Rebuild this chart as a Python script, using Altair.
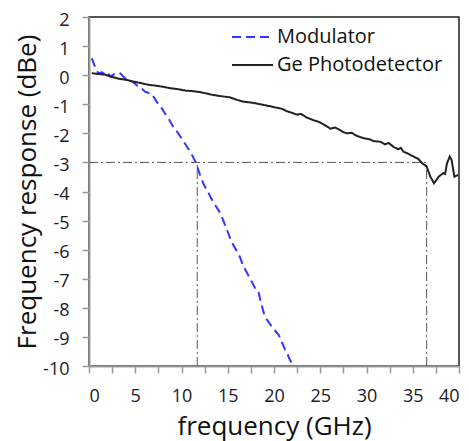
import altair as alt
import pandas as pd

# Ge photodetector response (GHz, dBe)
pd_freq = [0.3, 1.0, 1.7, 2.4, 3.2, 4.0, 4.8, 5.6, 6.4, 7.2, 8.0, 8.8, 9.6, 10.4, 11.2, 12.0,
           12.7, 13.4, 14.2, 15.2, 16.0, 16.7, 17.5, 18.2, 18.8, 19.6, 20.3, 20.8, 21.4, 22.0,
           22.5, 22.9, 23.5, 24.2, 24.8, 25.4, 26.1, 26.6, 27.1, 27.5, 27.9, 28.4, 28.9, 29.7,
           30.3, 30.8, 31.5, 32.0, 32.4, 32.9, 33.4, 33.7, 34.0, 34.5, 35.1, 35.6, 36.0, 36.5,
           36.9, 37.3, 37.8, 38.3, 38.5, 38.7, 39.0, 39.2, 39.5, 39.9]
pd_resp = [0.07, 0.04, 0.02, -0.05, -0.12, -0.16, -0.22, -0.27, -0.33, -0.36, -0.40, -0.45,
           -0.48, -0.53, -0.55, -0.58, -0.63, -0.68, -0.72, -0.76, -0.85, -0.91, -0.94, -0.98,
           -1.02, -1.07, -1.12, -1.15, -1.24, -1.30, -1.36, -1.33, -1.45, -1.54, -1.60, -1.70,
           -1.84, -1.80, -1.88, -1.96, -2.00, -1.98, -2.08, -2.17, -2.20, -2.27, -2.29, -2.38,
           -2.33, -2.46, -2.55, -2.50, -2.63, -2.70, -2.80, -2.88, -3.02, -3.14, -3.49, -3.72,
           -3.49, -3.37, -3.40, -3.03, -2.80, -2.91, -3.49, -3.43]

# Modulator response (GHz, dBe)
mod_freq = [0.3, 0.7, 1.0, 1.4, 1.7, 2.0, 2.3, 2.7, 3.0, 3.4, 3.7, 4.25, 4.7, 5.15, 5.6, 6.05,
            6.8, 7.3, 7.8, 8.2, 8.7, 9.1, 9.6, 10.0, 10.7, 11.1, 11.5, 12.0, 12.4, 13.0, 13.4,
            14.2, 14.7, 15.4, 16.3, 16.7, 17.4, 18.05, 18.3, 18.56, 19.0, 19.75, 20.5, 21.2,
            21.4, 21.55, 22.0, 22.1]
mod_resp = [0.58, 0.25, 0.07, 0.10, 0.04, 0.10, -0.05, 0.03, 0.00, 0.06, -0.05, -0.19, -0.22,
            -0.34, -0.42, -0.57, -0.65, -0.91, -1.10, -1.31, -1.55, -1.77, -1.98, -2.17, -2.51,
            -2.72, -2.97, -3.43, -3.75, -4.10, -4.35, -4.75, -5.15, -5.72, -6.24, -6.58, -6.98,
            -7.38, -7.42, -7.78, -8.30, -8.64, -8.93, -9.44, -9.50, -9.67, -9.96, -10.0]

series_names = ["Modulator", "Ge Photodetector"]
series_colors = ["#3535ff", "#222222"]

# -3 dB guide lines
guide_x = [0.0, 11.7, 36.5]
guide_x2 = [36.5, 11.7, 36.5]
guide_y = [-3.0, -10.0, -10.0]
guide_y2 = [-3.0, -3.0, -3.0]

x_ticks = [i * 2.5 for i in range(17)]
y_ticks = list(range(-10, 3))

df = pd.concat([
    pd.DataFrame({"freq": mod_freq, "resp": mod_resp, "series": series_names[0]}),
    pd.DataFrame({"freq": pd_freq, "resp": pd_resp, "series": series_names[1]}),
])
guides = pd.DataFrame({"x": guide_x, "x2": guide_x2, "y": guide_y, "y2": guide_y2})

xscale = alt.Scale(domain=[0, 40], nice=False)
yscale = alt.Scale(domain=[-10, 2], nice=False)

x_axis = alt.Axis(values=x_ticks, labelExpr="datum.value % 5 == 0 ? '' + datum.value : ''",
                  labelPadding=14, titlePadding=8, labelOverlap=False)
y_axis = alt.Axis(values=y_ticks, labelPadding=13, titlePadding=2, labelOverlap=False,
                  labelOffset=3,
                  labelExpr="datum.value < 0 ? '-' + abs(datum.value) : '' + datum.value")

guide_layer = alt.Chart(guides).mark_rule(
    color="#555555", strokeWidth=1, strokeDash=[9, 3, 2, 3]
).encode(
    x=alt.X("x:Q", scale=xscale, title="frequency (GHz)", axis=x_axis),
    x2="x2:Q",
    y=alt.Y("y:Q", scale=yscale, title="Frequency response (dBe)", axis=y_axis),
    y2="y2:Q",
)

legend_cfg = dict(title=None, orient="none", legendX=142, legendY=6,
                  symbolType="stroke", symbolSize=1681, symbolStrokeWidth=2,
                  labelFont="Open Sans", labelFontSize=20, labelColor="#111",
                  labelOffset=3, labelLimit=400, rowPadding=0, clipHeight=28, padding=0)

lines = alt.Chart(df).mark_line(strokeWidth=2).encode(
    x=alt.X("freq:Q", scale=xscale, title="frequency (GHz)", axis=x_axis),
    y=alt.Y("resp:Q", scale=yscale, title="Frequency response (dBe)", axis=y_axis),
    color=alt.Color("series:N", scale=alt.Scale(domain=series_names, range=series_colors),
                    sort=series_names, legend=alt.Legend(**legend_cfg)),
    strokeDash=alt.StrokeDash("series:N", sort=series_names,
                              scale=alt.Scale(domain=series_names, range=[[9, 5], [1, 0]]),
                              legend=alt.Legend(**legend_cfg)),
    detail="series:N",
)

chart = alt.layer(guide_layer, lines).properties(
    width=370, height=349,
    padding={"left": 81, "top": 9, "right": 2, "bottom": 75},
    autosize=alt.AutoSizeParams(type="none"),
).configure_view(
    stroke="#222222", strokeWidth=1.5
).configure_axis(
    grid=False, domainColor="#9a9a9a", domainWidth=2, tickColor="#9a9a9a", tickWidth=1.5,
    tickSize=7, labelFont="Open Sans", labelFontSize=18, labelColor="#1a1a2a",
    titleFont="Open Sans", titleFontSize=26, titleFontWeight="normal", titleColor="#111111",
)

chart.save("out.html", embed_options={"renderer": "svg", "actions": False})
